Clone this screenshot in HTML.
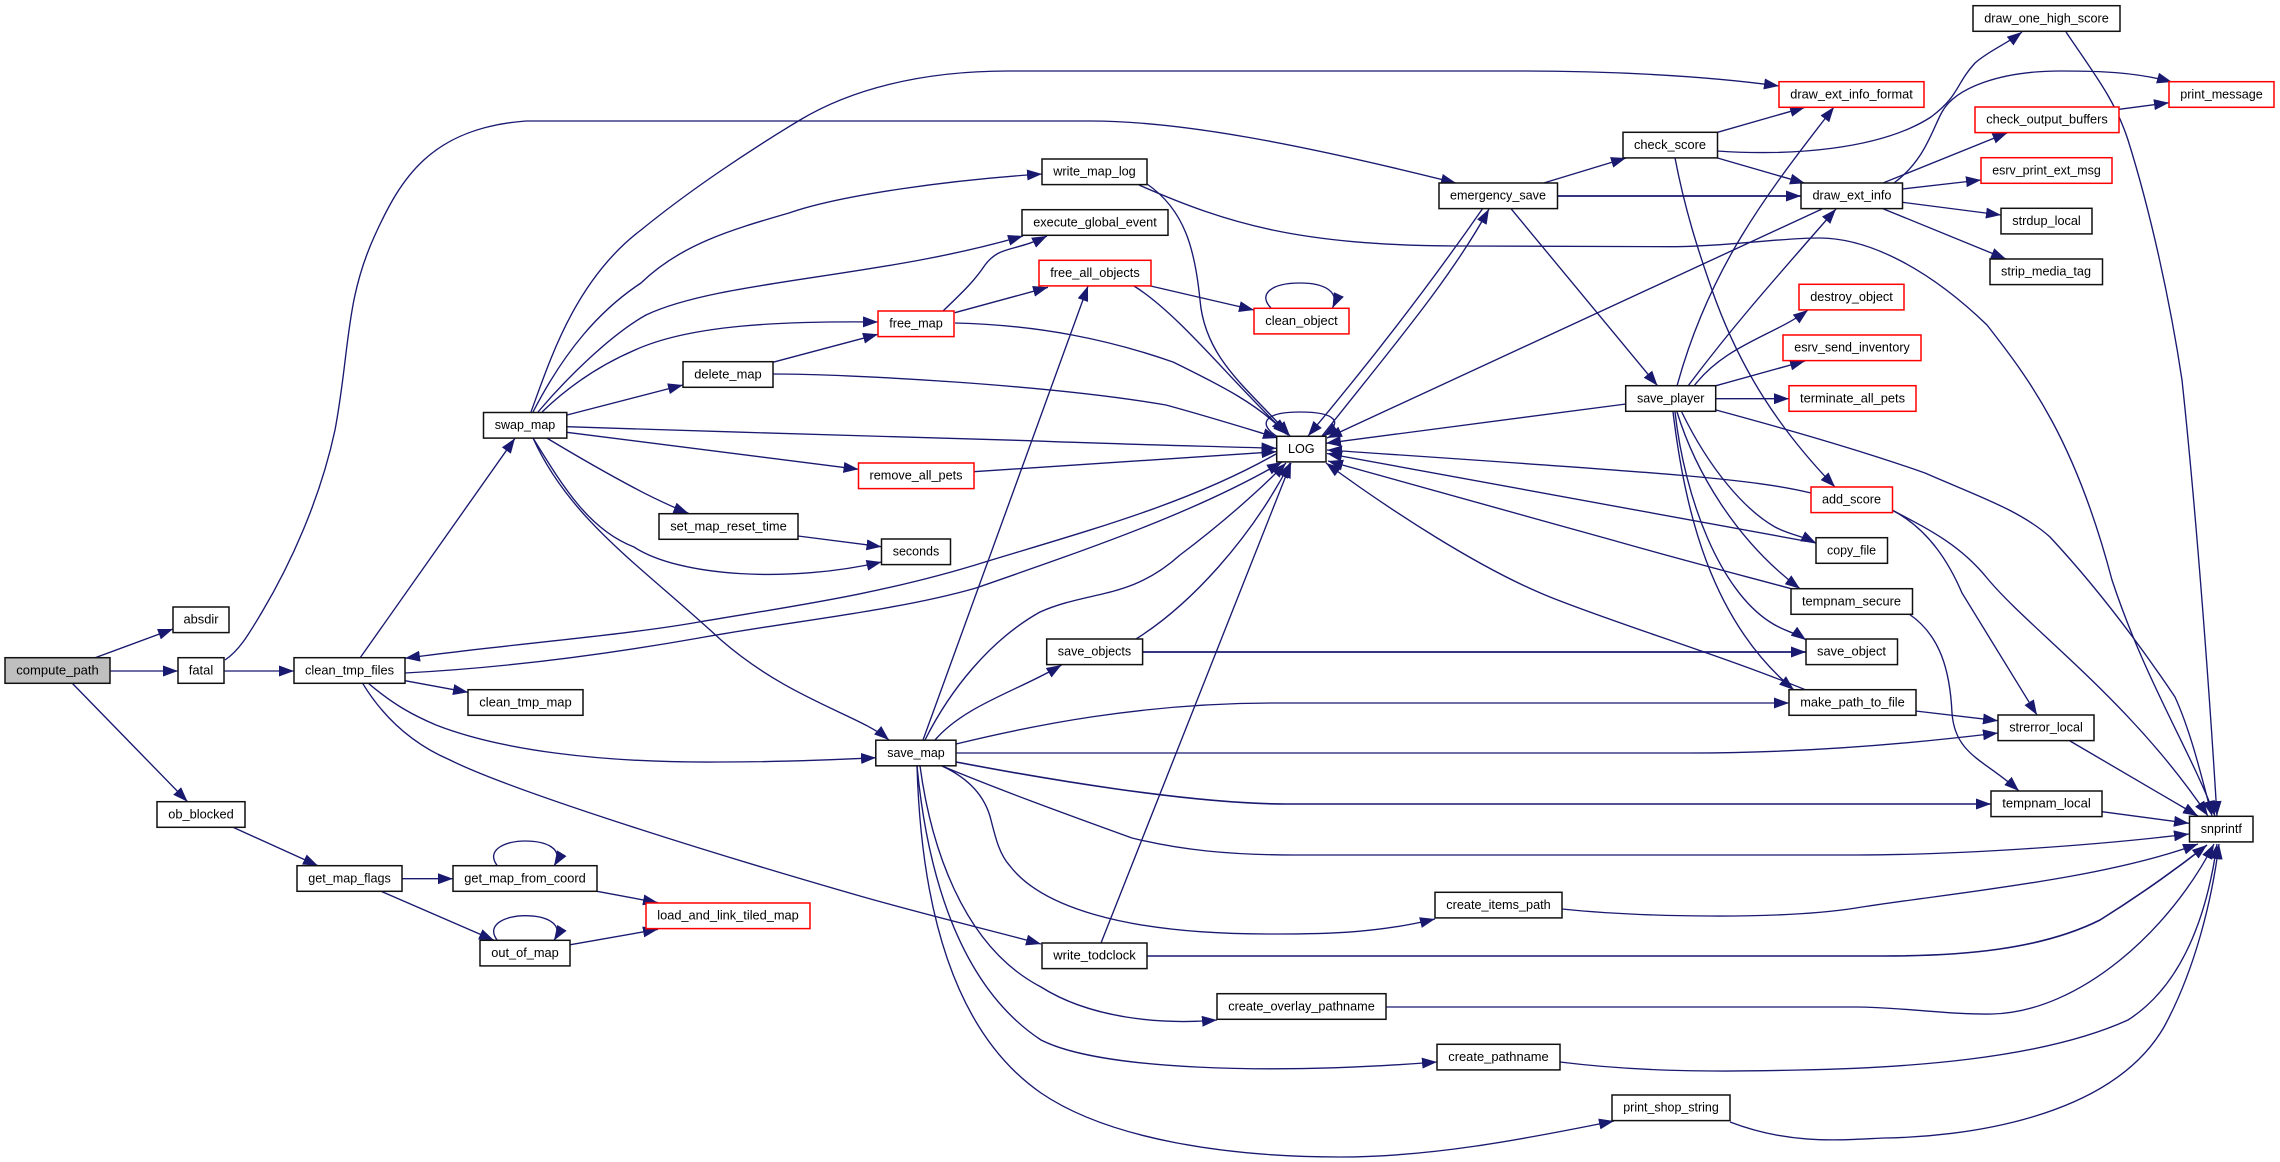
<!DOCTYPE html>
<html><head><meta charset="utf-8"><title>compute_path call graph</title>
<style>
html,body{margin:0;padding:0;background:#fff;width:2280px;height:1162px;overflow:hidden}
svg{display:block}
.e path{fill:none;stroke:#191970;stroke-width:1.35;marker-end:url(#a)}
.n rect{fill:#fff;stroke:#111;stroke-width:1.5}
.n rect.r{stroke:#ff0000}
.n rect.g{fill:#bfbfbf}
.n text{font-family:"Liberation Sans",Arial,sans-serif;font-size:12.9px;text-anchor:middle;fill:#000}
</style></head><body>
<svg xmlns="http://www.w3.org/2000/svg" width="2280" height="1162" viewBox="0 0 2280 1162">
<defs><marker id="a" markerUnits="userSpaceOnUse" markerWidth="15" markerHeight="11" refX="15" refY="5.5" orient="auto"><polygon points="0,0 15,5.5 0,11" fill="#191970"/></marker></defs>
<g class="e">
<path d="M94.5,658 L173,629"/>
<path d="M110,671 L178,671"/>
<path d="M72,683 L187.6,801.7"/>
<path d="M225,660 C240,650 250,632 262,612 C290,565 320,500 335,430 C350,350 345,300 375,235 C400,180 430,128 526,121 L1091,121 C1180,121 1300,144 1456,183"/>
<path d="M224,671 L294,671"/>
<path d="M360,658 L515,438.3"/>
<path d="M405,680.7 L468,692.3"/>
<path d="M368,683 C395,706 415,716 436,725 C500,750 600,763 720,762 C780,762 830,760 876,757.7"/>
<path d="M362.6,683.3 C385,720 415,745 450,760 C510,790 700,850 860,896 C930,916 990,930 1041,944"/>
<path d="M1276,454 C1190,503 1090,530 985,562 C880,595 780,608 699,622 C620,636 500,645 405,658.3"/>
<path d="M405,673 C520,667 620,652 699,638 C800,620 900,610 976,588 C1100,545 1200,510 1282,462"/>
<path d="M531,412 C550,360 575,280 641,230 C690,190 750,150 800,120 C850,90 920,71 1008,71 L1525,71 C1600,71 1700,75 1779,86"/>
<path d="M533,412 C565,350 600,310 641,283 C680,245 730,230 789,213 C840,195 950,180 1042,174"/>
<path d="M538,412 C565,380 610,335 646,315 C720,280 880,278 1023,236"/>
<path d="M542,412 C570,385 600,365 635,350 C690,325 780,321 878,322"/>
<path d="M567,415 L683,385"/>
<path d="M566.7,426.7 C720,432 880,436 1028.5,440.7 C1110,444 1200,446 1276.5,448.3"/>
<path d="M566.7,432.3 L858.5,469.3"/>
<path d="M546.7,438 C580,458 615,478 644.6,493.3 C660,501 675,508 688.5,513.3"/>
<path d="M533,438 C565,490 590,530 634,547 C680,577 790,583 881.5,562"/>
<path d="M533,438 C570,520 640,565 721,640 C790,700 860,715 889,740"/>
<path d="M973.7,471.7 L1276.5,451.7"/>
<path d="M798,536 L881.5,546.7"/>
<path d="M772.7,362.3 L878,334.3"/>
<path d="M773,374 C850,374 1050,385 1166,405 C1210,417 1245,428 1278,438"/>
<path d="M943,311 C965,290 975,280 985,265 C1000,245 1015,252 1047,236"/>
<path d="M954.8,312.7 L1048,287.3"/>
<path d="M955,323 C1040,325 1110,340 1173,362 C1220,385 1260,405 1286,434"/>
<path d="M1150.6,286 L1254,310"/>
<path d="M1134,286 C1180,315 1230,380 1288,435"/>
<path d="M1271,308 C1258,295 1270,283 1300,283 C1325,283 1340,292 1332.5,308"/>
<path d="M923,740 L1088,286"/>
<path d="M1147,184 C1185,210 1195,250 1200,300 C1205,360 1250,390 1290,436"/>
<path d="M1139,185 C1230,225 1300,245 1456,246 L1675,246.7 C1730,246 1780,238 1819,238 C1870,238 1930,270 1987,325 C2030,380 2075,440 2112,580 C2145,680 2190,750 2215,816"/>
<path d="M1543.7,183 L1626,158"/>
<path d="M1557.5,196 L1801,196" style="stroke-width:1.8"/>
<path d="M1511,208.7 L1657.5,385.7"/>
<path d="M1482.5,208.7 C1440,270 1380,350 1308,436"/>
<path d="M1322,436 C1390,350 1450,280 1489,209"/>
<path d="M1717.5,132.3 L1805,107.3"/>
<path d="M1717,151 C1790,156 1880,150 1931,117 C1960,95 1955,85 1975,63 C1990,50 2005,45 2022,32"/>
<path d="M1717.5,158 L1805,183.3"/>
<path d="M1675,158 C1685,210 1698,250 1712,290 C1740,370 1780,430 1835,487"/>
<path d="M1894,183 C1925,160 1932,130 1942,112 C1955,88 2000,71 2060,71 C2100,71 2135,72 2172,82"/>
<path d="M1883,183 L2007.5,132.7"/>
<path d="M1902.5,189 L1981,180"/>
<path d="M1902.5,202.3 L2001,215"/>
<path d="M1883,208.7 L2006,259"/>
<path d="M1822,209 L1327,438"/>
<path d="M2119,109.3 L2169,102.7"/>
<path d="M2066,32 C2095,75 2115,100 2128,140 C2150,210 2170,300 2182,380 C2197,520 2210,700 2217,816"/>
<path d="M1677,386 C1710,265 1770,190 1834,107"/>
<path d="M1688,386 C1730,330 1765,290 1836,209"/>
<path d="M1694,386 C1725,345 1775,335 1808,310"/>
<path d="M1716,385.7 L1805,361"/>
<path d="M1716,398.7 L1789,398.7"/>
<path d="M1626,404 L1326,443.3"/>
<path d="M1716,410 C1790,430 1860,450 1925,473 C1975,495 2020,510 2050,537 C2090,580 2130,630 2175,697 C2190,730 2200,770 2212,816"/>
<path d="M1681.7,412 C1710,470 1745,510 1775,527 C1790,535 1800,535 1816,543"/>
<path d="M1677,412 C1695,470 1735,540 1800,588.7"/>
<path d="M1675,412 C1685,500 1720,590 1770,622 C1785,632 1795,632 1806,640"/>
<path d="M1673,412 C1685,510 1710,620 1794,690"/>
<path d="M1811,493 C1750,478 1650,472 1327,450"/>
<path d="M1892,510 C1930,530 1950,565 1962,593 L2037,715"/>
<path d="M1892,510 C1930,530 1960,545 1987,578 C2030,630 2130,700 2208,816"/>
<path d="M1816,543 L1327,453.5"/>
<path d="M1794,589.5 C1760,580 1700,565 1612,540 L1328,461"/>
<path d="M1909,614 C1940,635 1950,670 1952,713 C1955,755 1985,760 2019,791"/>
<path d="M2102,811.7 L2189,823.3"/>
<path d="M2070,741 L2198,816"/>
<path d="M1915.6,711 L1998,720.7"/>
<path d="M1806,690 C1720,655 1620,625 1550,597 C1480,569 1390,510 1326,463"/>
<path d="M956,744 C1030,726 1140,703 1275,703 L1789,703"/>
<path d="M956,753 L1690,753 C1800,753 1900,745 1998,733"/>
<path d="M956,762 C1040,778 1190,804 1286,804 L1991,804" style="stroke-width:1.6"/>
<path d="M942,766 C1000,790 1060,812 1132,838 C1180,850 1230,855 1295,855 L1856,855 C1960,855 2100,845 2189,834"/>
<path d="M942,766 C968,778 985,795 991,820 C996,840 1000,855 1010,866 C1040,905 1120,934 1268,934 C1310,934 1370,935 1435,919"/>
<path d="M920,766 C930,840 960,945 1041,987 C1090,1018 1160,1025 1217,1020"/>
<path d="M917,766 C925,850 950,980 1041,1040 C1100,1070 1270,1075 1437,1062"/>
<path d="M917,766 C921,900 950,1030 1041,1093 C1110,1140 1230,1157 1340,1157 C1430,1157 1520,1140 1614,1121"/>
<path d="M935,740 C965,705 1020,690 1061.5,665"/>
<path d="M1136,639 C1190,605 1250,540 1290,463"/>
<path d="M1142.6,652 L1806,652" style="stroke-width:1.8"/>
<path d="M925,740 C950,690 990,640 1040,612 C1090,590 1130,600 1180,555 C1220,525 1260,490 1286,463"/>
<path d="M1101,943 L1291,463"/>
<path d="M1147,956 L1884,956 C1960,956 2040,950 2100,920 C2140,895 2175,870 2207,845" style="stroke-width:1.6"/>
<path d="M1562,909 C1640,917 1780,920 1856,908 C1950,893 2100,880 2198,844"/>
<path d="M1386,1007 L1856,1007 C1900,1007 1950,1015 1992,1014 C2080,1012 2170,930 2214,844"/>
<path d="M1560,1062 C1640,1072 1720,1072 1800,1070 C1900,1068 2040,1060 2128,1020 C2175,990 2205,930 2217,844"/>
<path d="M1730,1122 C1790,1145 1840,1140 1884,1138 C1960,1137 2110,1120 2164,1027 C2195,970 2212,900 2219,844"/>
<path d="M233,827.3 L318,865.7"/>
<path d="M402,878.7 L453,878.7"/>
<path d="M381,891.3 L494,940.3"/>
<path d="M497.5,866 C485,850 505,841 525,841 C545,841 565,848 554,866"/>
<path d="M597,891.3 L658,902.7"/>
<path d="M497.5,940.5 C485,925 505,915.7 525,915.7 C545,915.7 565,923 554,940.5"/>
<path d="M570.5,944.7 L658,929.3"/>
<path d="M1278,437 C1258,425 1262,412 1300,412 C1335,412 1345,422 1323,436"/>
</g>
<g class="n">
<rect class="g" x="5" y="657.7" width="105" height="25.6"/><text x="57.5" y="674.3" textLength="82.5" lengthAdjust="spacingAndGlyphs">compute_path</text>
<rect x="173" y="607" width="56" height="25.6"/><text x="201" y="623.6" textLength="35" lengthAdjust="spacingAndGlyphs">absdir</text>
<rect x="178" y="657.7" width="46" height="25.6"/><text x="201" y="674.3" textLength="24.5" lengthAdjust="spacingAndGlyphs">fatal</text>
<rect x="294" y="657.7" width="111" height="25.6"/><text x="349.5" y="674.3" textLength="89" lengthAdjust="spacingAndGlyphs">clean_tmp_files</text>
<rect x="468" y="689.7" width="115" height="25.6"/><text x="525.5" y="706.3" textLength="92.5" lengthAdjust="spacingAndGlyphs">clean_tmp_map</text>
<rect x="483.5" y="412.5" width="83.3" height="25.6"/><text x="525" y="429.1" textLength="60.5" lengthAdjust="spacingAndGlyphs">swap_map</text>
<rect x="659" y="513.7" width="139" height="25.6"/><text x="728.5" y="530.3" textLength="116.5" lengthAdjust="spacingAndGlyphs">set_map_reset_time</text>
<rect x="157" y="801.7" width="88" height="25.6"/><text x="201" y="818.3" textLength="65.5" lengthAdjust="spacingAndGlyphs">ob_blocked</text>
<rect x="297" y="865.7" width="105" height="25.6"/><text x="349.5" y="882.3" textLength="82.5" lengthAdjust="spacingAndGlyphs">get_map_flags</text>
<rect x="453" y="865.7" width="144" height="25.6"/><text x="525" y="882.3" textLength="121.5" lengthAdjust="spacingAndGlyphs">get_map_from_coord</text>
<rect x="480" y="940.3" width="90" height="25.6"/><text x="525" y="956.9" textLength="67.5" lengthAdjust="spacingAndGlyphs">out_of_map</text>
<rect class="r" x="646" y="903" width="164" height="25.6"/><text x="728" y="919.6" textLength="141.5" lengthAdjust="spacingAndGlyphs">load_and_link_tiled_map</text>
<rect x="1042" y="159" width="105" height="25.6"/><text x="1094.5" y="175.6" textLength="82.5" lengthAdjust="spacingAndGlyphs">write_map_log</text>
<rect x="1022" y="209.7" width="146" height="25.6"/><text x="1095" y="226.3" textLength="123.5" lengthAdjust="spacingAndGlyphs">execute_global_event</text>
<rect class="r" x="1039" y="260.3" width="112" height="25.6"/><text x="1095" y="276.9" textLength="89.5" lengthAdjust="spacingAndGlyphs">free_all_objects</text>
<rect class="r" x="878" y="311" width="76" height="25.6"/><text x="916" y="327.6" textLength="53.5" lengthAdjust="spacingAndGlyphs">free_map</text>
<rect x="683" y="361.7" width="90" height="25.6"/><text x="728" y="378.3" textLength="67.5" lengthAdjust="spacingAndGlyphs">delete_map</text>
<rect class="r" x="1254" y="308.3" width="95" height="25.6"/><text x="1301.5" y="324.9" textLength="72.5" lengthAdjust="spacingAndGlyphs">clean_object</text>
<rect x="1973" y="5.7" width="147" height="25.6"/><text x="2046.5" y="22.3" textLength="124.5" lengthAdjust="spacingAndGlyphs">draw_one_high_score</text>
<rect class="r" x="1779" y="81.7" width="145" height="25.6"/><text x="1851.5" y="98.3" textLength="122.5" lengthAdjust="spacingAndGlyphs">draw_ext_info_format</text>
<rect class="r" x="2169" y="81.7" width="105" height="25.6"/><text x="2221.5" y="98.3" textLength="82.5" lengthAdjust="spacingAndGlyphs">print_message</text>
<rect class="r" x="1975" y="107" width="144" height="25.6"/><text x="2047" y="123.6" textLength="121.5" lengthAdjust="spacingAndGlyphs">check_output_buffers</text>
<rect x="1623" y="132.3" width="94.5" height="25.6"/><text x="1670" y="148.9" textLength="72" lengthAdjust="spacingAndGlyphs">check_score</text>
<rect class="r" x="1981" y="157.7" width="131" height="25.6"/><text x="2046.5" y="174.3" textLength="108.5" lengthAdjust="spacingAndGlyphs">esrv_print_ext_msg</text>
<rect x="1439" y="183" width="118.5" height="25.6"/><text x="1498" y="199.6" textLength="96" lengthAdjust="spacingAndGlyphs">emergency_save</text>
<rect x="1801" y="183" width="101.5" height="25.6"/><text x="1852" y="199.6" textLength="79" lengthAdjust="spacingAndGlyphs">draw_ext_info</text>
<rect x="2001" y="208.3" width="91" height="25.6"/><text x="2046.5" y="224.9" textLength="68.5" lengthAdjust="spacingAndGlyphs">strdup_local</text>
<rect x="1990" y="259" width="112.5" height="25.6"/><text x="2046" y="275.6" textLength="90" lengthAdjust="spacingAndGlyphs">strip_media_tag</text>
<rect class="r" x="1799" y="284.3" width="105" height="25.6"/><text x="1851.5" y="300.9" textLength="82.5" lengthAdjust="spacingAndGlyphs">destroy_object</text>
<rect class="r" x="1783" y="335" width="138" height="25.6"/><text x="1852" y="351.6" textLength="115.5" lengthAdjust="spacingAndGlyphs">esrv_send_inventory</text>
<rect x="1625.7" y="385.7" width="90" height="25.6"/><text x="1670.7" y="402.3" textLength="67.5" lengthAdjust="spacingAndGlyphs">save_player</text>
<rect class="r" x="1789" y="385.7" width="127" height="25.6"/><text x="1852.5" y="402.3" textLength="105" lengthAdjust="spacingAndGlyphs">terminate_all_pets</text>
<rect x="1276.7" y="436.3" width="49.3" height="25.6"/><text x="1301.3" y="452.9" textLength="26.7" lengthAdjust="spacingAndGlyphs">LOG</text>
<rect class="r" x="1811" y="487" width="81.5" height="25.6"/><text x="1851.5" y="503.6" textLength="59" lengthAdjust="spacingAndGlyphs">add_score</text>
<rect x="1816" y="537.7" width="71.5" height="25.6"/><text x="1851.5" y="554.3" textLength="49" lengthAdjust="spacingAndGlyphs">copy_file</text>
<rect x="1791" y="588.7" width="121.5" height="25.6"/><text x="1851.5" y="605.3" textLength="99" lengthAdjust="spacingAndGlyphs">tempnam_secure</text>
<rect x="1806" y="639" width="91.5" height="25.6"/><text x="1851.5" y="655.6" textLength="69" lengthAdjust="spacingAndGlyphs">save_object</text>
<rect x="1789" y="689.7" width="127" height="25.6"/><text x="1852.5" y="706.3" textLength="104.5" lengthAdjust="spacingAndGlyphs">make_path_to_file</text>
<rect x="1998" y="715" width="96" height="25.6"/><text x="2046" y="731.6" textLength="73.5" lengthAdjust="spacingAndGlyphs">strerror_local</text>
<rect x="1991" y="791" width="111" height="25.6"/><text x="2046.5" y="807.6" textLength="88.5" lengthAdjust="spacingAndGlyphs">tempnam_local</text>
<rect x="2189.5" y="816.3" width="63.5" height="25.6"/><text x="2221.3" y="832.9" textLength="41" lengthAdjust="spacingAndGlyphs">snprintf</text>
<rect x="1435" y="892.3" width="127" height="25.6"/><text x="1498.5" y="908.9" textLength="104.5" lengthAdjust="spacingAndGlyphs">create_items_path</text>
<rect x="1042" y="943" width="105" height="25.6"/><text x="1094.5" y="959.6" textLength="82.5" lengthAdjust="spacingAndGlyphs">write_todclock</text>
<rect x="1217" y="993.7" width="169" height="25.6"/><text x="1301.5" y="1010.3" textLength="146.5" lengthAdjust="spacingAndGlyphs">create_overlay_pathname</text>
<rect x="1437" y="1044.3" width="123" height="25.6"/><text x="1498.5" y="1060.9" textLength="100.5" lengthAdjust="spacingAndGlyphs">create_pathname</text>
<rect x="1612" y="1095" width="118" height="25.6"/><text x="1671" y="1111.6" textLength="95.5" lengthAdjust="spacingAndGlyphs">print_shop_string</text>
<rect x="875.8" y="740.2" width="80.2" height="25.6"/><text x="916" y="756.8" textLength="57.5" lengthAdjust="spacingAndGlyphs">save_map</text>
<rect class="r" x="858.5" y="463" width="115.5" height="25.6"/><text x="916" y="479.6" textLength="93" lengthAdjust="spacingAndGlyphs">remove_all_pets</text>
<rect x="881.5" y="539" width="69" height="25.6"/><text x="916" y="555.6" textLength="46.5" lengthAdjust="spacingAndGlyphs">seconds</text>
<rect x="1046.7" y="639" width="95.9" height="25.6"/><text x="1094.5" y="655.6" textLength="73.4" lengthAdjust="spacingAndGlyphs">save_objects</text>
</g>
</svg>
</body></html>
